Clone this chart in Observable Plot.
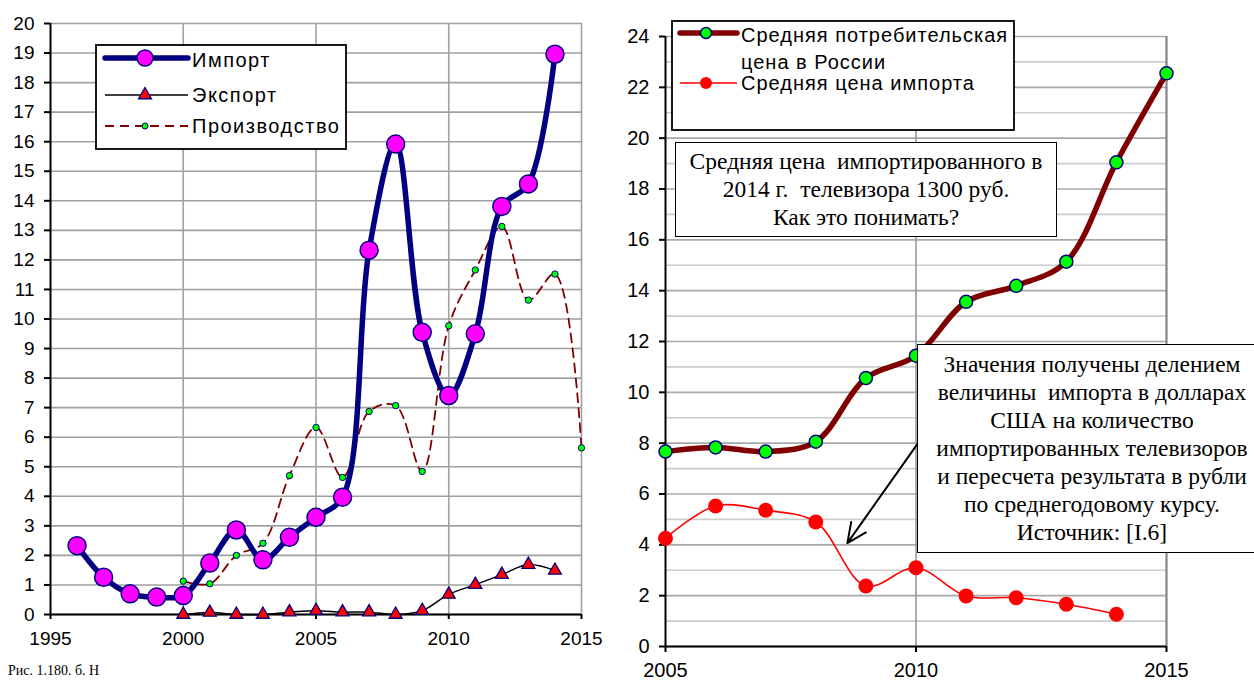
<!DOCTYPE html>
<html><head><meta charset="utf-8">
<script src="https://cdn.jsdelivr.net/npm/d3@7"></script>
<script src="https://cdn.jsdelivr.net/npm/@observablehq/plot@0.6"></script>
<style>
html,body{margin:0;padding:0;}
body{width:1254px;height:680px;overflow:hidden;background:#fff;position:relative;font-family:"Liberation Sans",Arial,sans-serif;}
#left{position:absolute;left:0;top:0;}
#right{position:absolute;left:620px;top:0;}
.tbox{position:absolute;background:#fff;border:1.5px solid #000;box-sizing:border-box;font-family:"Liberation Serif","Times New Roman",serif;font-size:23.5px;line-height:28px;text-align:center;white-space:pre;color:#000;}
.legend{position:absolute;}
#caption{position:absolute;left:8px;top:663px;font-size:14px;line-height:16px;font-family:"Liberation Serif",serif;white-space:nowrap;}
</style>
</head><body>
<div id="left"></div>
<div id="right"></div>
<svg class="legend" id="legL" style="left:95px;top:44px" width="252" height="106"></svg>
<svg class="legend" id="legR" style="left:671px;top:20px" width="344" height="111"></svg>
<div class="tbox" style="left:675px;top:142px;width:382px;height:95px;padding-top:4px;">Средняя цена  импортированного в
2014 г.  телевизора 1300 руб.
Как это понимать?</div>
<div class="tbox" style="left:917px;top:344px;width:350px;height:209px;padding-top:5px;">Значения получены делением
величины  импорта в долларах
США на количество
импортированных телевизоров
и пересчета результата в рубли
по среднегодовому курсу.
Источник: [I.6]</div>
<div id="caption">Рис. 1.180. б. Н</div>
<script>
// ---------- Left chart data ----------
const importYears = [1996,1997,1998,1999,2000,2001,2002,2003,2004,2005,2006,2007,2008,2009,2010,2011,2012,2013,2014];
const importVals  = [2.33,1.26,0.70,0.59,0.64,1.74,2.86,1.85,2.61,3.29,3.97,12.33,15.92,9.55,7.41,9.5,13.81,14.57,18.96];
const exportYears = [2000,2001,2002,2003,2004,2005,2006,2007,2008,2009,2010,2011,2012,2013,2014];
const exportVals  = [0,0.07,0,0,0.08,0.13,0.08,0.08,0,0.13,0.68,1.01,1.35,1.69,1.49];
const prodYears   = [2000,2001,2002,2003,2004,2005,2006,2007,2008,2009,2010,2011,2012,2013,2014,2015];
const prodVals    = [1.13,1.04,2.0,2.41,4.70,6.33,4.64,6.87,7.07,4.84,9.77,11.66,13.13,10.64,11.52,5.64];
const leftXTicks  = [1995,2000,2005,2010,2015];
const leftYTicks  = [0,1,2,3,4,5,6,7,8,9,10,11,12,13,14,15,16,17,18,19,20];
const leftLegend  = ["Импорт","Экспорт","Производство"];

// ---------- Right chart data ----------
const priceYears     = [2005,2006,2007,2008,2009,2010,2011,2012,2013,2014,2015];
const consumerPrice  = [7.67,7.83,7.67,8.06,10.56,11.44,13.56,14.19,15.14,19.05,22.55];
const impPriceYears  = [2005,2006,2007,2008,2009,2010,2011,2012,2013,2014];
const importPrice    = [4.26,5.53,5.36,4.90,2.38,3.10,1.99,1.92,1.66,1.27];
const rightXTicks    = [2005,2010,2015];
const rightYTicks    = [0,2,4,6,8,10,12,14,16,18,20,22,24];
const rightMinor     = [1,3,5,7,9,11,13,15,17,19,21,23];
const rightLegend    = ["Средняя потребительская","цена в России","Средняя цена импорта"];
const arrowNote      = [{x1:2010.03, y1:7.97, x2:2008.63, y2:4.07}];

const tbl = (xs, ys) => xs.map((x,i)=>({x, y: ys[i]}));
const imp = tbl(importYears, importVals);
const exp = tbl(exportYears, exportVals);
const prod = tbl(prodYears, prodVals);
const cons = tbl(priceYears, consumerPrice);
const ip = tbl(impPriceYears, importPrice);

const NAVY="#000080", MAG="#ff00ff", DRED="#800000", GRN="#00ff00", RED="#ff0000";

const left = Plot.plot({
  width:620, height:680, marginLeft:50, marginRight:39, marginTop:23, marginBottom:66,
  x:{domain:[1995,2015]}, y:{domain:[0,20]},
  style:{fontFamily:"Liberation Sans, Arial, sans-serif", fontSize:"19px", color:"#000", background:"transparent", overflow:"visible"},
  marks:[
    Plot.gridY(leftYTicks,{stroke:"#a0a0a0", strokeOpacity:1, strokeWidth:1.6}),
    Plot.gridX(leftXTicks.slice(1),{stroke:"#a0a0a0", strokeOpacity:1, strokeWidth:1.6}),
    Plot.axisX(leftXTicks,{tickSize:5, tickPadding:12, tickFormat:d=>String(d), label:null, strokeWidth:2}),
    Plot.axisY(leftYTicks,{tickSize:6, tickPadding:10, tickFormat:d=>String(d), label:null, strokeWidth:2}),
    Plot.ruleX([1995],{stroke:"#000", strokeWidth:2}),
    Plot.ruleY([0],{stroke:"#000", strokeWidth:2}),
    Plot.line(prod,{x:"x", y:"y", curve:"catmull-rom", stroke:DRED, strokeWidth:1.8, strokeDasharray:"9,6"}),
    Plot.line(exp,{x:"x", y:"y", curve:"catmull-rom", stroke:"#000", strokeWidth:1.5}),
    Plot.line(imp,{x:"x", y:"y", curve:"catmull-rom", stroke:NAVY, strokeWidth:5.5}),
    Plot.dot(prod,{x:"x", y:"y", r:3.2, fill:GRN, stroke:NAVY, strokeWidth:1}),
    Plot.dot(exp,{x:"x", y:"y", symbol:"triangle", r:4.8, fill:RED, stroke:NAVY, strokeWidth:1.3}),
    Plot.dot(imp,{x:"x", y:"y", r:9, fill:MAG, stroke:NAVY, strokeWidth:1.5})
  ]
});
document.getElementById("left").appendChild(left);

const right = Plot.plot({
  width:634, height:680, marginLeft:45, marginRight:88, marginTop:36, marginBottom:34,
  x:{domain:[2005,2015]}, y:{domain:[0,24]},
  style:{fontFamily:"Liberation Sans, Arial, sans-serif", fontSize:"20px", color:"#000", background:"transparent", overflow:"visible"},
  marks:[
    Plot.gridY(rightMinor,{stroke:"#cccccc", strokeOpacity:1, strokeWidth:1.6}),
    Plot.gridY(rightYTicks,{stroke:"#a8a8a8", strokeOpacity:1, strokeWidth:1.6}),
    Plot.gridX(rightXTicks.slice(1),{stroke:"#999", strokeOpacity:1, strokeWidth:1.6}),
    Plot.ruleX([2015],{stroke:"#888", strokeWidth:2}),
    Plot.axisX(rightXTicks,{tickSize:6, tickPadding:10, tickFormat:d=>String(d), label:null, strokeWidth:2}),
    Plot.axisY(rightYTicks,{tickSize:6, tickPadding:10, tickFormat:d=>String(d), label:null, strokeWidth:2}),
    Plot.ruleX([2005],{stroke:"#000", strokeWidth:2}),
    Plot.ruleY([0],{stroke:"#000", strokeWidth:2}),
    Plot.arrow(arrowNote,{x1:"x1", y1:"y1", x2:"x2", y2:"y2", stroke:"#000", strokeWidth:2, headLength:16, headAngle:50}),
    Plot.line(ip,{x:"x", y:"y", curve:"catmull-rom", stroke:RED, strokeWidth:1.6}),
    Plot.dot(ip,{x:"x", y:"y", r:7.5, fill:RED}),
    Plot.line(cons,{x:"x", y:"y", curve:"catmull-rom", stroke:DRED, strokeWidth:5.5}),
    Plot.dot(cons,{x:"x", y:"y", r:6.5, fill:GRN, stroke:NAVY, strokeWidth:1.5})
  ]
});
document.getElementById("right").appendChild(right);

// ---------- Legends ----------
function legendSvg(id, w, h, rows){
  const svg = d3.select("#"+id);
  svg.append("rect").attr("x",1).attr("y",1).attr("width",w-2).attr("height",h-2)
     .attr("fill","#fff").attr("stroke","#000").attr("stroke-width",1.8);
  rows.forEach(r => r(svg));
}
legendSvg("legL",252,106,[
  s=>{ s.append("line").attr("x1",10).attr("x2",93).attr("y1",14).attr("y2",14).attr("stroke",NAVY).attr("stroke-width",5.5).attr("stroke-linecap","round");
       s.append("circle").attr("cx",50).attr("cy",14).attr("r",8).attr("fill",MAG).attr("stroke",NAVY).attr("stroke-width",1.5);
       s.append("text").attr("x",97).attr("y",18).attr("dominant-baseline","middle").attr("font-size",20).attr("letter-spacing",1.5).text(leftLegend[0]); },
  s=>{ s.append("line").attr("x1",10).attr("x2",93).attr("y1",51).attr("y2",51).attr("stroke","#000").attr("stroke-width",1.5);
       s.append("path").attr("d",d3.symbol(d3.symbolTriangle, Math.PI*4.8*4.8)()).attr("transform","translate(50,51)").attr("fill",RED).attr("stroke",NAVY).attr("stroke-width",1.3);
       s.append("text").attr("x",97).attr("y",53).attr("dominant-baseline","middle").attr("font-size",20).attr("letter-spacing",1.5).text(leftLegend[1]); },
  s=>{ s.append("line").attr("x1",10).attr("x2",93).attr("y1",82).attr("y2",82).attr("stroke",DRED).attr("stroke-width",2).attr("stroke-dasharray","9,6");
       s.append("circle").attr("cx",50).attr("cy",82).attr("r",3).attr("fill",GRN).attr("stroke",NAVY).attr("stroke-width",1);
       s.append("text").attr("x",97).attr("y",84).attr("dominant-baseline","middle").attr("font-size",20).attr("letter-spacing",1.5).text(leftLegend[2]); }
]);
legendSvg("legR",344,111,[
  s=>{ s.append("line").attr("x1",9).attr("x2",66).attr("y1",13).attr("y2",13).attr("stroke",DRED).attr("stroke-width",5.5).attr("stroke-linecap","round");
       s.append("circle").attr("cx",35).attr("cy",13).attr("r",5.5).attr("fill",GRN).attr("stroke",NAVY).attr("stroke-width",1.5);
       s.append("text").attr("x",70).attr("y",17).attr("dominant-baseline","middle").attr("font-size",20).attr("letter-spacing",1.0).text(rightLegend[0]);
       s.append("text").attr("x",70).attr("y",44).attr("dominant-baseline","middle").attr("font-size",20).attr("letter-spacing",1.0).text(rightLegend[1]); },
  s=>{ s.append("line").attr("x1",9).attr("x2",66).attr("y1",63).attr("y2",63).attr("stroke",RED).attr("stroke-width",1.6);
       s.append("circle").attr("cx",35).attr("cy",63).attr("r",6).attr("fill",RED);
       s.append("text").attr("x",70).attr("y",65).attr("dominant-baseline","middle").attr("font-size",20).attr("letter-spacing",1.0).text(rightLegend[2]); }
]);
d3.selectAll(".legend text").attr("font-family","Liberation Sans, Arial, sans-serif").attr("fill","#000");
</script>
</body></html>
